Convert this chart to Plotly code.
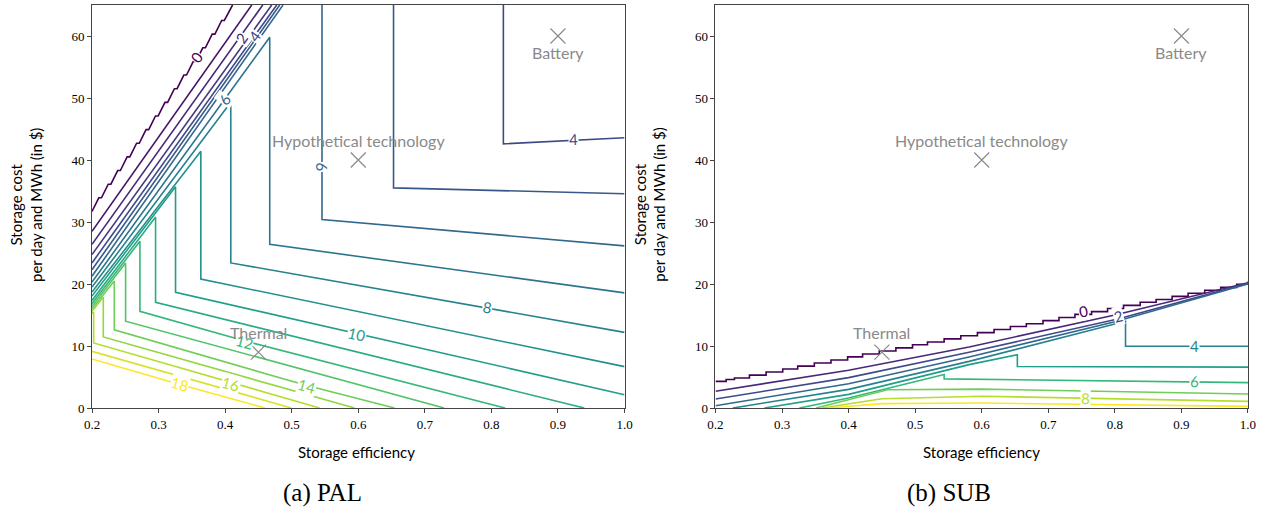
import plotly.graph_objects as go
from plotly.subplots import make_subplots
from plotly.colors import sample_colorscale

# ---------------- PAL panel: contour lines (storage efficiency, storage cost) ----------------
PAL_LEVELS = list(range(19))
PAL_L0_X = [0.2, 0.2102, 0.2142, 0.2244, 0.2284, 0.2386, 0.2426, 0.2528, 0.2568, 0.267, 0.271,
            0.2812, 0.2852, 0.2954, 0.2994, 0.3096, 0.3136, 0.3238, 0.3278, 0.338, 0.342,
            0.3522, 0.3562, 0.3664, 0.3704, 0.3806, 0.3846, 0.3948, 0.3988, 0.409, 0.4112]
PAL_L0_Y = [31.7, 33.9, 33.9, 36.1, 36.1, 38.3, 38.3, 40.5, 40.5, 42.7, 42.7,
            44.9, 44.9, 47.1, 47.1, 49.3, 49.3, 51.5, 51.5, 53.7, 53.7,
            55.9, 55.9, 58.1, 58.1, 60.3, 60.3, 62.5, 62.5, 64.7, 65.0]
PAL_LINES = {
    0: [(PAL_L0_X, PAL_L0_Y)],
    1: [([0.2, 0.44], [28.5, 65.0])],
    2: [([0.2, 0.4565], [26.4, 65.0])],
    3: [([0.2, 0.47], [24.75, 65.0])],
    4: [([0.2, 0.4775], [23.4, 65.0]), ([0.818, 0.818, 1.0], [65.0, 42.6, 43.6])],
    5: [([0.2, 0.482], [22.3, 65.0]), ([0.653, 0.653, 1.0], [65.0, 35.5, 34.55])],
    6: [([0.2, 0.487], [21.25, 65.0]), ([0.5455, 0.5455, 1.0], [65.0, 30.4, 26.15])],
    7: [([0.2, 0.467, 0.467, 1.0], [20.3, 59.8, 26.4, 18.57])],
    8: [([0.2, 0.4085, 0.4085, 1.0], [19.5, 49.3, 23.4, 12.2])],
    9: [([0.2, 0.3635, 0.3635, 1.0], [18.7, 41.4, 20.8, 6.67])],
    10: [([0.2, 0.3255, 0.3255, 1.0], [18.05, 35.7, 18.67, 2.15])],
    11: [([0.2, 0.2955, 0.2955, 0.9395], [17.35, 30.8, 17.05, 0.0])],
    12: [([0.2, 0.272, 0.272, 0.43, 0.8205], [16.85, 26.9, 15.6, 10.8, 0.0])],
    13: [([0.2, 0.2505, 0.2505, 0.729], [16.4, 23.4, 14.0, 0.0])],
    14: [([0.2, 0.2335, 0.2335, 0.52, 0.6545], [16.0, 20.5, 12.6, 3.7, 0.0])],
    15: [([0.2, 0.217, 0.217, 0.5945], [15.6, 17.9, 11.45, 0.0])],
    16: [([0.2, 0.2025, 0.2025, 0.41, 0.542], [15.2, 15.5, 10.5, 4.05, 0.0])],
    17: [([0.2, 0.3, 0.4995], [9.14, 6.1, 0.0])],
    18: [([0.2, 0.332, 0.46], [7.9, 3.8, 0.0])],
}
# contour labels: (level, x, y, angle)
PAL_LABELS = [
    (0, 0.357, 56.6, -54), (2, 0.4245, 59.7, -54), (4, 0.4445, 60.0, -54),
    (6, 0.3995, 49.8, -54), (6, 0.5455, 38.8, 90), (4, 0.923, 43.4, -2),
    (8, 0.794, 16.3, 10), (10, 0.5975, 12.0, 13), (12, 0.4295, 10.7, 15),
    (14, 0.5225, 3.6, 16), (16, 0.4095, 3.95, 16), (18, 0.332, 3.8, 16),
]

# ---------------- SUB panel ----------------
SUB_LEVELS = list(range(10))
SUB_L0_X = [0.2, 0.216, 0.2285, 0.251, 0.276, 0.301, 0.3235, 0.3485, 0.3735, 0.3985, 0.421,
            0.446, 0.471, 0.496, 0.5185, 0.5435, 0.5685, 0.5935, 0.6185, 0.643, 0.667,
            0.692, 0.716, 0.740, 0.765, 0.789, 0.813, 0.838, 0.862, 0.886, 0.910, 0.935,
            0.959, 0.983, 1.0]
SUB_L0_Y = [4.3, 4.6, 4.85, 5.3, 5.8, 6.3, 6.75, 7.25, 7.75, 8.25, 8.7,
            9.2, 9.7, 10.2, 10.65, 11.15, 11.65, 12.15, 12.65, 13.15, 13.6,
            14.1, 14.6, 15.1, 15.55, 16.05, 16.55, 17.05, 17.5, 18.0, 18.5, 19.0,
            19.45, 19.95, 20.4]
SUB_LINES = {
    1: [([0.2, 0.4, 0.581, 0.8, 1.0], [2.7, 6.1, 9.85, 15.0, 20.2])],
    2: [([0.2, 0.4, 0.581, 0.806, 1.0], [1.45, 4.9, 8.98, 14.4, 20.1])],
    3: [([0.2, 0.4, 0.581, 0.8, 1.0], [0.37, 3.9, 8.23, 13.9, 20.0])],
    4: [([0.226, 0.4, 0.581, 0.816, 0.816, 1.0], [0.0, 3.0, 7.52, 14.0, 9.95, 9.95])],
    5: [([0.2735, 0.4, 0.581, 0.6535, 0.6535, 1.0], [0.0, 2.2, 7.0, 8.6, 6.7, 6.6])],
    6: [([0.326, 0.4, 0.5435, 0.5435, 1.0], [0.0, 1.6, 5.4, 4.7, 4.1])],
    7: [([0.351, 0.4585, 0.6, 1.0], [0.0, 2.95, 3.05, 2.25])],
    8: [([0.36, 0.45, 0.6, 1.0], [0.0, 1.5, 1.9, 1.07])],
    9: [([0.37, 0.45, 0.6, 1.0], [0.0, 0.7, 0.8, 0.26])],
}
SUB_LABELS = [
    (0, 0.7535, 15.6, -11), (2, 0.806, 14.8, -14), (4, 0.92, 9.95, 0),
    (6, 0.919, 4.4, 1), (8, 0.756, 1.6, 1),
]

# ---------------- technology markers ----------------
TECH_NAMES = ["Battery", "Hypothetical technology", "Thermal"]
TECH_X = [0.9, 0.6, 0.45]
TECH_Y = [60, 40, 9]
TECH_LABEL_Y = [57.4, 43.1, 12.2]

X_TICKS = [0.2, 0.3, 0.4, 0.5, 0.6, 0.7, 0.8, 0.9, 1.0]
Y_TICKS = [0, 10, 20, 30, 40, 50, 60]

SANS = "Lato"
SERIF = "Liberation Serif"
GRAY = "#8a8a8a"

fig = make_subplots(rows=1, cols=2, horizontal_spacing=0.0787)

pal_colors = sample_colorscale("Viridis", [l / 18 for l in PAL_LEVELS])
sub_colors = sample_colorscale("Viridis", [l / 9 for l in SUB_LEVELS])

for lvl in PAL_LEVELS:
    for xs, ys in PAL_LINES[lvl]:
        fig.add_trace(go.Scatter(x=xs, y=ys, mode="lines", showlegend=False, hoverinfo="skip",
                                 line=dict(color=pal_colors[lvl], width=1.6)), row=1, col=1)

fig.add_trace(go.Scatter(x=SUB_L0_X, y=SUB_L0_Y, mode="lines", line_shape="hv", showlegend=False,
                         hoverinfo="skip", line=dict(color=sub_colors[0], width=1.6)), row=1, col=2)
for lvl in SUB_LEVELS[1:]:
    for xs, ys in SUB_LINES[lvl]:
        fig.add_trace(go.Scatter(x=xs, y=ys, mode="lines", showlegend=False, hoverinfo="skip",
                                 line=dict(color=sub_colors[lvl], width=1.6)), row=1, col=2)

for col in (1, 2):
    fig.add_trace(go.Scatter(x=TECH_X, y=TECH_Y, mode="markers", showlegend=False, hoverinfo="skip",
                             marker=dict(symbol="x-thin", size=15, line=dict(color=GRAY, width=1.2))),
                  row=1, col=col)

xr = {1: ("x", "y"), 2: ("x2", "y2")}
for col, labels, colors in ((1, PAL_LABELS, pal_colors), (2, SUB_LABELS, sub_colors)):
    xref, yref = xr[col]
    for lvl, lx, ly, ang in labels:
        fig.add_annotation(x=lx, y=ly, xref=xref, yref=yref, text=str(lvl), showarrow=False,
                           textangle=ang, bgcolor="white", borderpad=0,
                           xanchor="center", yanchor="middle",
                           font=dict(family=SANS, size=15, color=colors[lvl]))
    for name, tx, ty in zip(TECH_NAMES, TECH_X, TECH_LABEL_Y):
        fig.add_annotation(x=tx, y=ty, xref=xref, yref=yref, text=name, showarrow=False,
                           xanchor="center", yanchor="middle",
                           font=dict(family=SANS, size=16, color=GRAY))

axis_common = dict(showline=True, mirror=True, linecolor="#444", linewidth=1, ticks="outside",
                   ticklen=4, tickcolor="#444", showgrid=False, zeroline=False,
                   tickfont=dict(family=SERIF, size=13, color="black"))
for col in (1, 2):
    fig.update_xaxes(range=[0.2, 1.0], tickvals=X_TICKS, ticktext=[f"{v:.1f}" for v in X_TICKS],
                     **axis_common, row=1, col=col)
    fig.update_yaxes(range=[0, 65], tickvals=Y_TICKS, **axis_common, row=1, col=col)

# axis titles and captions
for cx in (0.2291, 0.7696):
    fig.add_annotation(x=cx, y=-0.11, xref="paper", yref="paper", text="Storage efficiency",
                       xanchor="center", yanchor="middle",
                       showarrow=False, font=dict(family=SANS, size=15, color="black"))
for cx in (-0.057, 0.4825):
    fig.add_annotation(x=cx, y=0.504, xref="paper", yref="paper",
                       text="Storage cost<br>per day and MWh (in $)", textangle=-90,
                       xanchor="center", yanchor="middle",
                       showarrow=False, font=dict(family=SANS, size=15, color="black"))
for cx, cap in ((0.1997, "(a) PAL"), (0.741, "(b) SUB")):
    fig.add_annotation(x=cx, y=-0.212, xref="paper", yref="paper", text=cap, showarrow=False,
                       xanchor="center", yanchor="middle",
                       font=dict(family=SERIF, size=25, color="black"))

fig.update_layout(width=1265, height=514, margin=dict(l=92, r=16.5, t=5, b=105.5),
                  plot_bgcolor="white", paper_bgcolor="white")
fig.write_html("out.html")
